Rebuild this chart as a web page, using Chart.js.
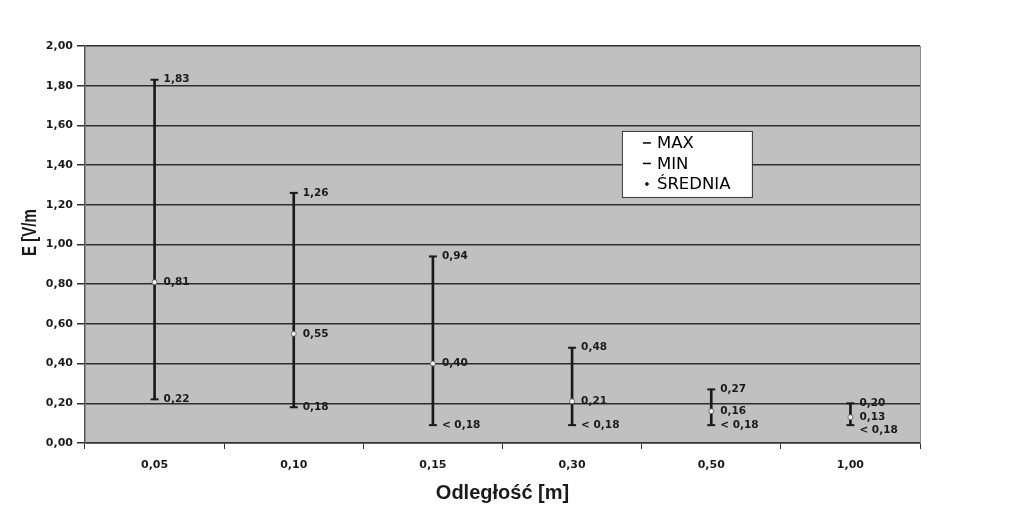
<!DOCTYPE html>
<html>
<head>
<meta charset="utf-8">
<script src="https://cdn.jsdelivr.net/npm/chart.js@4.4.1/dist/chart.umd.min.js"></script>
<style>
    html, body { margin: 0; padding: 0; background: #fff; }
    #wrap { width: 1023px; height: 518px; position: relative; }
</style>
</head>
<body>
<div id="wrap"><canvas id="chart"></canvas></div>
<script>
// Data (min below detection limit drawn at 0,09)
const categories = ['0,05', '0,10', '0,15', '0,30', '0,50', '1,00'];
const maxValues = [1.83, 1.26, 0.94, 0.48, 0.27, 0.20];
const minValues = [0.22, 0.18, 0.09, 0.09, 0.09, 0.09];
const meanValues = [0.81, 0.55, 0.40, 0.21, 0.16, 0.13];
const maxLabels = ['1,83', '1,26', '0,94', '0,48', '0,27', '0,20'];
const minLabels = ['0,22', '0,18', '< 0,18', '< 0,18', '< 0,18', '< 0,18'];
const meanLabels = ['0,81', '0,55', '0,40', '0,21', '0,16', '0,13'];
const yTitle = 'E [V/m';

const FONT = "'DejaVu Sans', 'Liberation Sans', Arial, sans-serif";
const ARIAL = "'Liberation Sans', Arial, sans-serif";
const INK = '#1a1a1a';

// grey plot area + light frame + y title
const plotBackground = {
    id: 'plotBackground',
    beforeDraw(chart) {
        const {ctx, chartArea: a} = chart;
        ctx.save();
        ctx.fillStyle = '#c0c0c0';
        ctx.fillRect(a.left, a.top, a.right - a.left, a.bottom - a.top);
        ctx.restore();
    },
    afterDraw(chart) {
        const {ctx, chartArea: a} = chart;
        ctx.save();
        ctx.strokeStyle = '#8c8c8c';
        ctx.lineWidth = 1;
        ctx.beginPath();
        ctx.moveTo(a.right + 0.5, a.top);
        ctx.lineTo(a.right + 0.5, a.bottom);
        ctx.stroke();
        // y axis title, a little above the middle like the original (slightly widened glyphs)
        ctx.translate(31, a.top + (a.bottom - a.top) * 0.47);
        ctx.scale(1.3, 1);
        ctx.rotate(-Math.PI / 2);
        ctx.font = 'bold 15px ' + ARIAL;
        ctx.fillStyle = INK;
        ctx.textAlign = 'center';
        ctx.textBaseline = 'middle';
        ctx.fillText(yTitle, 0, 0);
        ctx.restore();
    }
};

// value labels to the right of each marker
const valueLabels = {
    id: 'valueLabels',
    afterDatasetsDraw(chart) {
        const {ctx} = chart;
        const find = name => chart.data.datasets.findIndex(d => d.label === name);
        const mMax = chart.getDatasetMeta(find('MAX')).data;
        const mMin = chart.getDatasetMeta(find('MIN')).data;
        const mMean = chart.getDatasetMeta(find('ŚREDNIA')).data;
        ctx.save();
        ctx.font = 'bold 10.5px ' + FONT;
        ctx.fillStyle = INK;
        ctx.textBaseline = 'middle';
        ctx.textAlign = 'left';
        categories.forEach((c, i) => {
            const x = mMax[i].x + 9;
            const yMax = mMax[i].y;
            const yMean = Math.max(mMean[i].y, yMax + 13);
            const yMin = Math.max(mMin[i].y, yMean + 13);
            ctx.fillText(maxLabels[i], x, yMax);
            ctx.fillText(meanLabels[i], x, yMean);
            ctx.fillText(minLabels[i], x, yMin);
        });
        ctx.restore();
    }
};

// legend box drawn inside the plot
const boxLegend = {
    id: 'boxLegend',
    afterDraw(chart) {
        const {ctx, chartArea: a} = chart;
        const w = a.right - a.left, h = a.bottom - a.top;
        const x0 = a.left + w * 0.643, y0 = a.top + h * 0.214;
        const bw = 130, bh = 66;
        ctx.save();
        ctx.fillStyle = '#ffffff';
        ctx.fillRect(x0, y0, bw, bh);
        ctx.strokeStyle = '#333';
        ctx.lineWidth = 1;
        ctx.strokeRect(x0 + 0.5, y0 + 0.5, bw, bh);
        const items = chart.data.datasets.filter(d => d.type === 'line');
        ctx.font = '16.5px ' + FONT;
        ctx.fillStyle = '#000';
        ctx.textBaseline = 'middle';
        items.forEach((d, k) => {
            const y = y0 + 12 + k * 20.5;
            const mx = x0 + 25;
            ctx.strokeStyle = '#000';
            ctx.lineWidth = 1.5;
            ctx.beginPath();
            if (d.label === 'ŚREDNIA') {
                ctx.moveTo(mx - 2, y); ctx.lineTo(mx + 2, y);
                ctx.moveTo(mx, y - 2); ctx.lineTo(mx, y + 2);
            } else {
                ctx.moveTo(mx - 4, y); ctx.lineTo(mx + 4, y);
            }
            ctx.stroke();
            ctx.fillText(d.label, x0 + 35, y + 1);
        });
        ctx.restore();
    }
};

new Chart(document.getElementById('chart'), {
    data: {
        labels: categories,
        datasets: [
            {
                type: 'bar',
                label: 'range',
                data: minValues.map((v, i) => [v, maxValues[i]]),
                backgroundColor: INK,
                barThickness: 2,
                order: 3
            },
            {
                type: 'line',
                label: 'MAX',
                data: maxValues,
                showLine: false,
                pointStyle: 'line',
                pointRadius: 4,
                pointBorderWidth: 2,
                pointBorderColor: INK,
                order: 1
            },
            {
                type: 'line',
                label: 'MIN',
                data: minValues,
                showLine: false,
                pointStyle: 'line',
                pointRadius: 4,
                pointBorderWidth: 2,
                pointBorderColor: INK,
                order: 1
            },
            {
                type: 'line',
                label: 'ŚREDNIA',
                data: meanValues,
                showLine: false,
                pointStyle: 'circle',
                pointRadius: 2.5,
                pointBackgroundColor: '#f4f4f4',
                pointBorderColor: '#555',
                pointBorderWidth: 0.8,
                order: 0
            }
        ]
    },
    options: {
        responsive: true,
        maintainAspectRatio: false,
        animation: false,
        layout: { padding: { top: 46, right: 103, left: 0, bottom: 0 } },
        plugins: {
            legend: { display: false },
            tooltip: { enabled: false }
        },
        scales: {
            x: {
                offset: true,
                afterFit: axis => { axis.height = 75; },
                grid: {
                    offset: true,
                    drawOnChartArea: false,
                    tickLength: 6,
                    color: '#333'
                },
                border: { color: '#333', width: 1.5 },
                ticks: {
                    padding: 10,
                    color: INK,
                    font: { family: FONT, size: 11, weight: 'bold' }
                },
                title: {
                    display: true,
                    text: 'Odległość [m]',
                    color: INK,
                    padding: { top: 0, bottom: 13 },
                    font: { family: ARIAL, size: 20, weight: 'bold' }
                }
            },
            y: {
                min: 0,
                max: 2,
                afterFit: axis => { axis.width = 85; },
                grid: {
                    color: '#2e2e2e',
                    lineWidth: 1.5,
                    tickLength: 8
                },
                border: { color: '#555', width: 1.5 },
                ticks: {
                    stepSize: 0.2,
                    padding: 4,
                    color: INK,
                    font: { family: FONT, size: 11, weight: 'bold' },
                    callback: v => v.toFixed(2).replace('.', ',')
                }
            }
        }
    },
    plugins: [plotBackground, valueLabels, boxLegend]
});
</script>
</body>
</html>
